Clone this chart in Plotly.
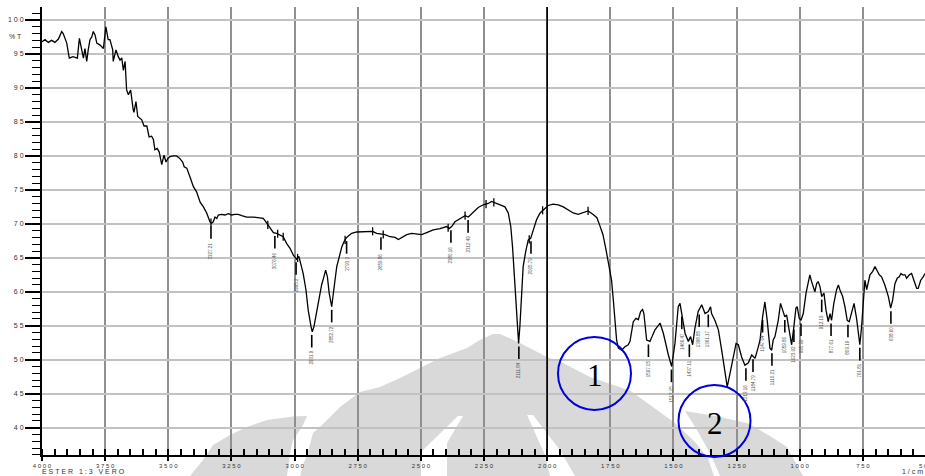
import numpy as np
import plotly.graph_objects as go

# ---------------- data ----------------
wavenumber = [4000, 3988, 3975, 3962, 3949, 3935, 3922, 3916, 3902, 3892, 3878, 3869, 3860, 3852, 3843, 3836,
              3830, 3823, 3817, 3810, 3803, 3797, 3790, 3783, 3770, 3757, 3747, 3738, 3731, 3720, 3718, 3707,
              3698, 3691, 3684, 3678, 3671, 3665, 3658, 3649, 3639, 3636, 3628, 3621, 3605, 3596, 3585, 3576,
              3566, 3559, 3553, 3544, 3536, 3526, 3517, 3509, 3502, 3493, 3480, 3467, 3454, 3443, 3437, 3427,
              3414, 3401, 3388, 3374, 3361, 3348, 3335, 3328, 3322, 3315, 3308, 3302, 3289, 3276, 3262, 3249,
              3236, 3223, 3209, 3190, 3163, 3144, 3124, 3110, 3097, 3084, 3071, 3058, 3045, 3031, 3018, 3005,
              2992, 2983, 2976, 2966, 2955, 2946, 2935, 2930, 2923, 2912, 2902, 2893, 2884, 2877, 2870, 2863,
              2853, 2847, 2840, 2833, 2823, 2813, 2804, 2796, 2787, 2774, 2754, 2734, 2714, 2691, 2675, 2662,
              2642, 2622, 2602, 2589, 2576, 2556, 2536, 2517, 2497, 2477, 2451, 2424, 2398, 2388, 2378, 2365,
              2345, 2325, 2312, 2292, 2273, 2253, 2233, 2220, 2207, 2187, 2167, 2154, 2144, 2137, 2130, 2123,
              2117, 2113, 2108, 2101, 2095, 2084, 2075, 2065, 2055, 2042, 2028, 2015, 1996, 1976, 1956, 1936,
              1916, 1897, 1877, 1858, 1838, 1819, 1803, 1791, 1779, 1767, 1755, 1745, 1738, 1731, 1725, 1718,
              1705, 1692, 1679, 1672, 1665, 1659, 1648, 1639, 1630, 1622, 1617, 1606, 1593, 1573, 1553, 1540,
              1520, 1507, 1494, 1481, 1474, 1467, 1454, 1441, 1432, 1424, 1415, 1402, 1388, 1375, 1362, 1353,
              1349, 1336, 1322, 1309, 1296, 1287, 1276, 1263, 1252, 1243, 1230, 1217, 1204, 1190, 1177, 1164,
              1157, 1147, 1138, 1129, 1118, 1111, 1105, 1098, 1085, 1076, 1068, 1059, 1052, 1041, 1032, 1023,
              1015, 1010, 1002, 995, 986, 975, 966, 960, 953, 946, 940, 933, 927, 920, 913, 904,
              896, 887, 880, 874, 865, 854, 847, 841, 830, 821, 812, 804, 794, 785, 775, 768,
              762, 755, 748, 742, 735, 729, 722, 711, 702, 695, 685, 676, 663, 649, 640, 632,
              623, 614, 606, 599, 593, 583, 577, 566, 557, 548, 537, 531, 521, 511, 504]

transmittance = [96.8, 97.1, 96.7, 97.0, 96.7, 97.2, 98.3, 98.0, 96.6, 94.4, 94.6, 94.5, 94.4, 97.3, 95.6, 94.4,
                 95.8, 93.9, 95.6, 97.1, 97.5, 98.3, 97.8, 96.6, 96.3, 95.8, 99.0, 97.1, 97.1, 95.6, 93.9, 95.6,
                 94.6, 94.1, 94.4, 92.6, 93.9, 89.7, 89.0, 89.7, 86.8, 86.4, 88.0, 85.8, 85.3, 84.4, 84.4, 82.8,
                 82.9, 82.4, 80.9, 81.1, 80.6, 78.7, 80.1, 79.1, 79.6, 79.9, 80.0, 80.0, 79.6, 79.1, 78.4, 78.2,
                 76.9, 75.5, 74.7, 73.2, 72.5, 71.6, 70.3, 70.1, 70.3, 71.0, 70.8, 71.3, 71.4, 71.3, 71.5, 71.3,
                 71.4, 71.4, 71.2, 71.0, 71.0, 70.9, 70.8, 70.1, 69.3, 68.7, 68.6, 68.4, 68.1, 67.1, 66.4, 65.4,
                 64.8, 65.2, 64.2, 62.7, 60.3, 57.3, 54.9, 54.1, 54.9, 57.3, 59.3, 61.0, 62.2, 63.2, 62.2, 59.8,
                 57.8, 59.3, 61.7, 63.7, 65.4, 66.6, 67.4, 67.9, 68.2, 68.6, 68.8, 68.8, 68.8, 68.9, 68.6, 68.5,
                 68.4, 68.1, 68.0, 67.7, 68.0, 68.4, 68.6, 68.5, 68.4, 68.7, 69.1, 69.3, 69.6, 69.3, 69.6, 70.3,
                 70.8, 71.2, 71.0, 71.8, 72.4, 72.8, 73.0, 73.3, 73.1, 72.8, 72.5, 71.6, 69.6, 66.6, 62.7, 57.8,
                 53.9, 52.4, 54.9, 59.8, 63.7, 66.1, 67.6, 67.9, 69.1, 70.6, 71.6, 72.1, 72.7, 72.9, 72.8, 72.5,
                 72.0, 71.6, 71.4, 71.7, 71.9, 71.4, 70.9, 69.7, 68.4, 66.2, 64.0, 61.7, 58.8, 55.8, 52.9, 51.7,
                 51.4, 51.9, 52.2, 52.7, 54.4, 55.6, 56.1, 55.9, 57.1, 57.4, 56.8, 52.9, 52.7, 54.4, 55.4, 53.9,
                 50.7, 49.0, 52.4, 57.8, 58.3, 56.8, 53.9, 52.7, 53.4, 52.2, 54.6, 57.1, 58.1, 56.8, 57.1, 57.8,
                 56.8, 55.8, 54.4, 51.4, 48.5, 46.0, 48.0, 50.4, 52.4, 52.2, 50.4, 49.2, 49.5, 50.7, 50.2, 51.9,
                 52.9, 56.3, 58.5, 55.9, 51.7, 51.4, 52.9, 53.4, 55.8, 58.3, 57.3, 56.3, 56.6, 54.4, 52.2, 54.9,
                 57.6, 57.8, 56.1, 55.8, 56.8, 59.8, 61.5, 62.5, 61.5, 60.8, 60.0, 61.2, 61.5, 60.8, 59.3, 59.8,
                 57.3, 55.6, 56.8, 55.8, 58.3, 60.3, 61.0, 60.3, 59.3, 57.8, 55.8, 55.6, 57.1, 58.3, 56.1, 53.9,
                 52.2, 54.9, 59.3, 61.7, 60.3, 61.2, 62.5, 63.0, 63.7, 63.2, 62.5, 62.2, 61.0, 59.3, 57.6, 58.8,
                 61.2, 62.0, 62.2, 62.7, 62.5, 62.5, 62.0, 62.5, 62.7, 61.7, 60.5, 60.5, 61.7, 62.2, 62.7]

# labelled peaks
peak_wavenumber = [3331, 3078, 2994, 2932, 2853, 2794, 2658, 2381, 2313, 2112, 2064,
                   1599, 1508, 1467, 1437, 1398, 1362, 1213, 1185, 1147, 1110, 1059,
                   1023, 995, 913, 876, 809, 762, 639]
peak_label = ["3327.21", "3076.46", "2995.2", "2931.9", "2852.72", "2793.3", "2659.86", "2380.16",
              "2312.49", "2111.84", "2065.79", "1597.05", "1512.15", "1466.47", "1437.11", "1398.85",
              "1361.17", "1213.16", "1184.79", "1147.64", "1110.21", "1059.86", "1023.92", "995.99",
              "912.19", "877.61", "809.19", "761.81", "638.60"]

# unlabelled peak markers crossing the trace
marker_wavenumber = [3331, 3106, 3067, 3045, 2988, 2800, 2691, 2649, 2392, 2325, 2242, 2211, 2071, 2018, 1838]

x_tick_values = [4000, 3750, 3500, 3250, 3000, 2750, 2500, 2250, 2000, 1750, 1500, 1250, 1000, 750]
x_tick_labels = ["4 0 0 0", "3 7 5 0", "3 5 0 0", "3 2 5 0", "3 0 0 0", "2 7 5 0", "2 5 0 0",
                 "2 2 5 0", "2 0 0 0", "1 7 5 0", "1 5 0 0", "1 2 5 0", "1 0 0 0", "7 5 0"]
y_tick_values = [40, 45, 50, 55, 60, 65, 70, 75, 80, 85, 90, 95, 100]
y_tick_labels = ["4 0", "4 5", "5 0", "5 5", "6 0", "6 5", "7 0", "7 5", "8 0", "8 5", "9 0", "9 5", "1 0 0"]

NB = "\u00a0"
sample_name = NB.join("ESTER") + NB * 3 + NB.join("1:3") + NB * 3 + NB.join("VERO")
x_unit = "1 / c m"
y_unit = "% T"

# ---------------- figure ----------------
W, H = 925, 476
L, R, T, B = 42, 0, 7, 21
PW, PH = W - L - R, H - T - B


def P(x, y):
    """window pixel -> paper coordinates (decoration only)"""
    return (x - L) / PW, (H - B - y) / PH


def path(pts):
    s = ""
    for i, (x, y) in enumerate(pts):
        px, py = P(x, y)
        s += ("M" if i == 0 else "L") + f"{px:.4f},{py:.4f} "
    return s + "Z"


wn = np.array(wavenumber, dtype=float)
tr = np.array(transmittance, dtype=float)
order = np.argsort(wn)


def t_at(w, win=6):
    m = (wn >= w - win) & (wn <= w + win)
    base = np.interp(w, wn[order], tr[order])
    return min(base, tr[m].min()) if m.any() else base


fig = go.Figure()

# spectrum
fig.add_trace(go.Scatter(x=wavenumber, y=transmittance, mode="lines",
                         line=dict(color="black", width=1.3), hoverinfo="skip"))

# peak ticks below trace
tx, ty = [], []
for w in peak_wavenumber:
    t0 = t_at(w)
    tx += [w, w, None]
    ty += [t0 - 0.45, t0 - 2.3, None]
fig.add_trace(go.Scatter(x=tx, y=ty, mode="lines", line=dict(color="black", width=1.6), hoverinfo="skip"))

# markers crossing the trace
mx, my = [], []
for w in marker_wavenumber:
    t0 = float(np.interp(w, wn[order], tr[order]))
    mx += [w, w, None]
    my += [t0 + 0.6, t0 - 0.6, None]
fig.add_trace(go.Scatter(x=mx, y=my, mode="lines", line=dict(color="black", width=1.3), hoverinfo="skip"))

annotations = []
for w, lab in zip(peak_wavenumber, peak_label):
    t0 = t_at(w)
    annotations.append(dict(x=w, y=t0 - 2.5, xref="x", yref="y", text=lab, showarrow=False,
                            textangle=-90, xanchor="center", yanchor="top",
                            font=dict(size=4.5, color="#555", family="Liberation Sans, Arial")))

small = dict(size=7, color="#333", family="Liberation Sans, Arial")
ax_, ay_ = P(15, 37)
annotations.append(dict(x=ax_, y=ay_, xref="paper", yref="paper", text=y_unit, showarrow=False,
                        xanchor="center", yanchor="middle", font=small))
ax_, ay_ = P(41, 476)
annotations.append(dict(x=ax_, y=ay_, xref="paper", yref="paper", text=sample_name, showarrow=False,
                        xanchor="left", yanchor="bottom", borderpad=0,
                        font=dict(size=7, color="#333", family="Liberation Sans, Arial")))
ax_, ay_ = P(924, 476)
annotations.append(dict(x=ax_, y=ay_, xref="paper", yref="paper", text=x_unit, showarrow=False,
                        xanchor="right", yanchor="bottom", borderpad=0, font=small))
ax_, ay_ = P(926, 466)
annotations.append(dict(x=ax_, y=ay_, xref="paper", yref="paper", text="5 0 0", showarrow=False,
                        xanchor="center", yanchor="middle", font=dict(size=6, color="#333", family="Liberation Sans, Arial")))

# circled numbers
for (cx, cy, r, num) in [(594.5, 373.5, 36.5, "1"), (714.5, 421, 36, "2")]:
    x0, y0 = P(cx - r, cy + r)
    x1, y1 = P(cx + r, cy - r)
    fig.add_shape(type="circle", xref="paper", yref="paper", x0=x0, y0=y0, x1=x1, y1=y1,
                  line=dict(color="#0000dd", width=2), layer="above")
    px_, py_ = P(cx, cy + 2)
    annotations.append(dict(x=px_, y=py_, xref="paper", yref="paper", text=num, showarrow=False,
                            xanchor="center", yanchor="middle",
                            font=dict(size=31, color="black", family="Liberation Serif, Times New Roman")))

# watermark (decorative background logo)
grey = "#d9d9d9"
wm_A = [(190, 476), (203, 460), (213, 445), (230, 435), (247, 427), (267, 420), (293, 416.5), (307, 416),
        (302, 427), (293, 440), (290, 453), (287, 476)]
wm_B = [(300, 476), (304, 462), (307, 456), (313, 433), (320, 427), (327, 420), (340, 407), (360, 392),
        (380, 387), (400, 378), (420, 368), (440, 358), (467, 348), (480, 340), (493, 334), (500, 334),
        (520, 343), (547, 357), (563, 363), (590, 377), (631, 391), (650, 405), (675, 423), (695, 442),
        (708, 458), (714, 476)]
wm_C = [(685, 411), (715, 416), (747, 423), (770, 436), (787, 447), (803, 476), (720, 476),
        (711, 455), (697, 430)]
slit1 = [(458, 416), (463, 416), (447, 443), (447, 476), (421, 476), (421, 452)]
slit2 = [(527, 415), (533, 415), (560, 450), (575, 476), (550, 476), (545, 455)]
for pts in (wm_A, wm_B, wm_C):
    fig.add_shape(type="path", xref="paper", yref="paper", path=path(pts),
                  fillcolor=grey, line=dict(width=0), layer="below")
for pts in (slit1, slit2):
    fig.add_shape(type="path", xref="paper", yref="paper", path=path(pts),
                  fillcolor="white", line=dict(width=0), layer="below")

# heavy line at 2000
fig.add_shape(type="line", xref="x", yref="paper", x0=2000, x1=2000, y0=-0.011, y1=1,
              line=dict(color="black", width=1.6), layer="above")

fig.update_layout(
    width=W, height=H, margin=dict(l=L, r=R, t=T, b=B, autoexpand=False),
    paper_bgcolor="white", plot_bgcolor="rgba(0,0,0,0)",
    showlegend=False, annotations=annotations,
    xaxis=dict(range=[4000, 504], tickmode="array", tickvals=x_tick_values, ticktext=x_tick_labels,
               automargin=False,
               showgrid=True, gridcolor="#8f8f8f", gridwidth=1.5, zeroline=False,
               ticks="outside", ticklen=4, tickwidth=1.5, tickcolor="black",
               showline=True, linecolor="black", linewidth=1.5,
               tickfont=dict(size=6, color="#333", family="Liberation Sans, Arial"),
               minor=dict(tickmode="linear", tick0=500, dtick=50, ticks="inside", ticklen=6,
                          tickwidth=1.5, tickcolor="black", showgrid=False)),
    yaxis=dict(range=[35.98, 101.91], tickmode="array", tickvals=y_tick_values, ticktext=y_tick_labels,
               automargin=False,
               showgrid=True, gridcolor="#c2c2c2", gridwidth=1.5, zeroline=False,
               ticks="outside", ticklen=15, tickwidth=1.5, tickcolor="black",
               showline=True, linecolor="black", linewidth=2,
               tickfont=dict(size=7, color="#333", family="Liberation Sans, Arial"),
               minor=dict(tickmode="linear", tick0=0, dtick=1, ticks="outside", ticklen=8,
                          tickwidth=1.2, tickcolor="black", showgrid=False)),
)

# place the 925x476 figure flush with the window (no page margin / scrollbars)
fig.write_html("out.html", config={"displayModeBar": False},
               post_script="document.body.style.margin='0';document.body.style.overflow='hidden';")
